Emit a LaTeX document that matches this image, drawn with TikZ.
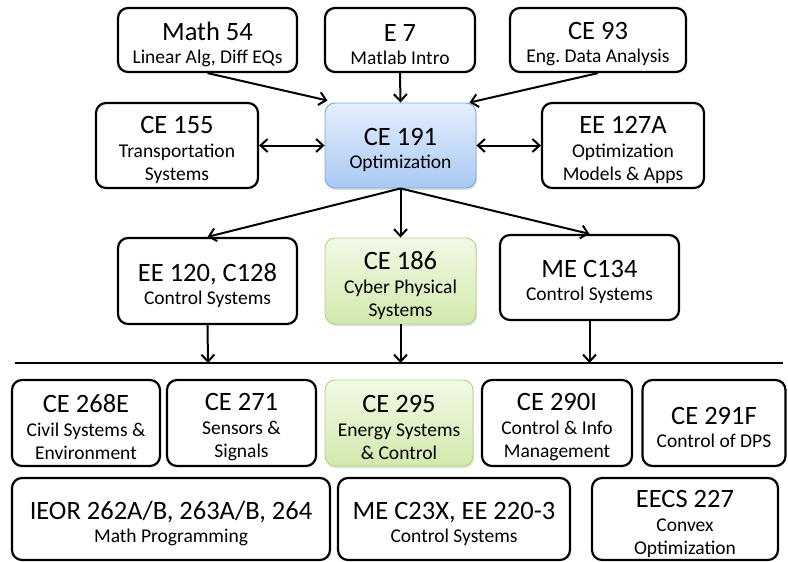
\documentclass[tikz,border=0pt]{standalone}
\usepackage{fontspec}
\setmainfont{Carlito}
\frenchspacing
\usetikzlibrary{arrows.meta,shadows}
\definecolor{bluetop}{HTML}{E4EEFC}
\definecolor{bluebot}{HTML}{A9C9F4}
\definecolor{blueline}{HTML}{7EA6DA}
\definecolor{greentop}{HTML}{F2F9E6}
\definecolor{greenbot}{HTML}{D2E9AC}
\definecolor{greenline}{HTML}{B2D38A}
\newcommand{\ttl}[1]{{\fontsize{26.5}{27}\selectfont #1}}
\newcommand{\sbt}[1]{{\fontsize{19.5}{23}\selectfont #1}}
\tikzset{
  course/.style={draw=black, line width=2.2pt, rounded corners=10pt, inner sep=0pt, fill=white},
  bluebox/.style={course, draw=blueline, line width=0.9pt, top color=bluetop, bottom color=bluebot,
    drop shadow={shadow xshift=1pt, shadow yshift=-2pt, opacity=0.25}},
  greenbox/.style={course, draw=greenline, line width=0.9pt, top color=greentop, bottom color=greenbot,
    drop shadow={shadow xshift=1pt, shadow yshift=-2pt, opacity=0.25}},
  txt/.style={align=center, inner sep=0pt, font=\fontsize{19.5}{23}\selectfont},
  conn/.style={line width=2pt, -{Straight Barb[length=7pt,width=13pt,line width=2pt]}},
  dconn/.style={line width=2pt, {Straight Barb[length=7pt,width=13pt,line width=2pt]}-{Straight Barb[length=7pt,width=13pt,line width=2pt]}},
  sep/.style={line width=2pt}
}
% #1 style, #2 name, #3 x, #4 y, #5 width, #6 height, #7 text
\newcommand{\crsbox}[7]{%
  \node[#1, minimum width=#5pt, minimum height=#6pt] (#2) at (#3,#4) {};
  \node[txt] (#2t) at ([yshift=-4.5pt]#2.center) {#7};
}
\begin{document}
\begin{tikzpicture}[x=1pt,y=-1pt]
\useasboundingbox (0,0) rectangle (788,562);
% top row
\crsbox{course}{m54}{207.5}{40}{179}{64}{\ttl{Math 54}\\[0pt]\sbt{Linear Alg, Diff EQs}}
\crsbox{course}{e7}{400}{40}{150}{64}{\ttl{E 7}\\[0pt]\sbt{Matlab Intro}}
\crsbox{course}{ce93}{598}{40}{176}{64}{\ttl{CE 93}\\[0pt]\sbt{Eng. Data Analysis}}
% second row
\crsbox{course}{ce155}{177}{145.5}{162}{85}{\ttl{CE 155}\\[1pt]\sbt{Transportation}\\\sbt{Systems}}
\crsbox{bluebox}{ce191}{400.5}{145.5}{151}{85}{\ttl{CE 191}\\[0pt]\sbt{Optimization}}
\crsbox{course}{ee127}{623}{145.5}{162}{85}{\ttl{EE 127A}\\[1pt]\sbt{Optimization}\\\sbt{Models \& Apps}}
% third row
\crsbox{course}{ee120}{207.5}{281}{179}{86}{\ttl{EE 120, C128}\\[0pt]\sbt{Control Systems}}
\crsbox{greenbox}{ce186}{400.5}{281}{151}{86}{\ttl{CE 186}\\[1pt]\sbt{Cyber Physical}\\\sbt{Systems}}
\crsbox{course}{mec134}{589.5}{277.5}{179}{85}{\ttl{ME C134}\\[0pt]\sbt{Control Systems}}
% separator
\coordinate (sl) at (15,363);
\coordinate (sr) at (783,363);
\draw[sep] (sl) -- (sr);
\coordinate (t1) at (208,363);
\coordinate (t2) at (400.5,363);
\coordinate (t3) at (589.5,363);
% fourth row
\crsbox{course}{ce268}{86}{423}{148}{86}{\ttl{CE 268E}\\[1pt]\sbt{Civil Systems \&}\\\sbt{Environment}}
\crsbox{course}{ce271}{241.5}{423}{149}{86}{\ttl{CE 271}\\[1pt]\sbt{Sensors \&}\\\sbt{Signals}}
\crsbox{greenbox}{ce295}{399}{423}{148}{86}{\ttl{CE 295}\\[1pt]\sbt{Energy Systems}\\\sbt{\& Control}}
\crsbox{course}{ce290}{557}{423}{150}{86}{\ttl{CE 290I}\\[1pt]\sbt{Control \& Info}\\\sbt{Management}}
\crsbox{course}{ce291}{714}{423}{143}{86}{\ttl{CE 291F}\\[0pt]\sbt{Control of DPS}}
% fifth row
\crsbox{course}{ieor}{171}{519}{318}{82}{\ttl{IEOR 262A/B, 263A/B, 264}\\[0pt]\sbt{Math Programming}}
\crsbox{course}{mec23}{454}{519}{232}{82}{\ttl{ME C23X, EE 220-3}\\[0pt]\sbt{Control Systems}}
\crsbox{course}{eecs}{685}{519}{186}{82}{\ttl{EECS 227}\\[1pt]\sbt{Convex}\\\sbt{Optimization}}
% connectors
\draw[conn] (m54.south) -- ([xshift=3pt,yshift=2pt]ce191.north west);
\draw[conn] (e7.south) -- (ce191.north);
\draw[conn] (ce93.south) -- ([xshift=-7pt]ce191.north east);
\draw[dconn] (ce155.east) -- (ce191.west);
\draw[dconn] (ce191.east) -- (ee127.west);
\draw[conn] (ce191.south) -- (ee120.north);
\draw[conn] (ce191.south) -- (ce186.north);
\draw[conn] (ce191.south) -- (mec134.north);
\draw[conn] (ee120.south) -- (t1);
\draw[conn] (ce186.south) -- (t2);
\draw[conn] (mec134.south) -- (t3);
\end{tikzpicture}
\end{document}
